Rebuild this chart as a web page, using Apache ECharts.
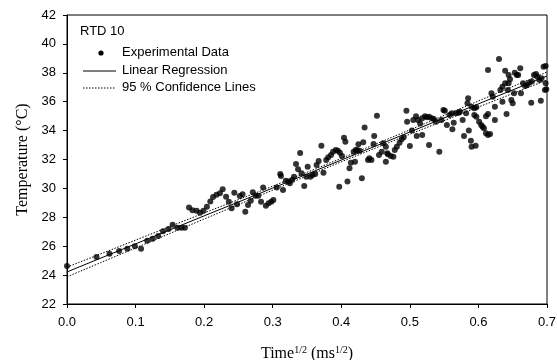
<!DOCTYPE html>
<html>
<head>
<meta charset="utf-8">
<script src="https://cdn.jsdelivr.net/npm/echarts@6/dist/echarts.min.js"></script>
<style>
  html, body { margin: 0; padding: 0; background: #fff; }
  #chart { width: 557px; height: 360px; }
</style>
</head>
<body>
<div id="chart"></div>
<script>
// experimental points, time^1/2 (ms^1/2) vs temperature (°C)
var timeData = [
  0.000, 0.043, 0.062, 0.076, 0.088, 0.099, 0.108, 0.117, 0.125, 0.133,
  0.140, 0.148, 0.154, 0.161, 0.167, 0.172, 0.178, 0.183, 0.189, 0.194,
  0.199, 0.204, 0.209, 0.213, 0.218, 0.223, 0.227, 0.232, 0.236, 0.240,
  0.244, 0.248, 0.252, 0.256, 0.260, 0.264, 0.268, 0.271, 0.275, 0.279,
  0.283, 0.286, 0.290, 0.294, 0.298, 0.301, 0.306, 0.311, 0.312, 0.315,
  0.319, 0.323, 0.325, 0.328, 0.331, 0.334, 0.337, 0.340, 0.342, 0.346,
  0.349, 0.351, 0.355, 0.358, 0.362, 0.364, 0.367, 0.371, 0.374, 0.378,
  0.381, 0.385, 0.388, 0.392, 0.395, 0.398, 0.401, 0.397, 0.404, 0.406,
  0.409, 0.412, 0.414, 0.420, 0.418, 0.421, 0.423, 0.427, 0.425, 0.430,
  0.432, 0.434, 0.439, 0.441, 0.444, 0.447, 0.448, 0.452, 0.455, 0.459,
  0.461, 0.465, 0.467, 0.465, 0.468, 0.472, 0.476, 0.478, 0.481, 0.485,
  0.488, 0.491, 0.495, 0.496, 0.500, 0.503, 0.505, 0.509, 0.512, 0.515,
  0.518, 0.510, 0.518, 0.522, 0.525, 0.528, 0.532, 0.535, 0.528, 0.538,
  0.543, 0.546, 0.549, 0.551, 0.554, 0.558, 0.561, 0.564, 0.567, 0.562,
  0.571, 0.573, 0.577, 0.579, 0.582, 0.584, 0.585, 0.586, 0.589, 0.590,
  0.596, 0.590, 0.594, 0.597, 0.594, 0.597, 0.601, 0.604, 0.606, 0.608,
  0.611, 0.614, 0.617, 0.611, 0.614, 0.614, 0.619, 0.621, 0.624, 0.624,
  0.630, 0.632, 0.635, 0.639, 0.639, 0.635, 0.641, 0.643, 0.644, 0.646,
  0.644, 0.648, 0.650, 0.652, 0.653, 0.656, 0.658, 0.661, 0.662, 0.665,
  0.668, 0.671, 0.674, 0.678, 0.677, 0.681, 0.684, 0.686, 0.689, 0.691,
  0.692, 0.695, 0.698, 0.697, 0.698, 0.699
];
var tempData = [
  24.63, 25.25, 25.48, 25.67, 25.83, 26.00, 25.83, 26.38, 26.52, 26.70,
  27.03, 27.19, 27.49, 27.28, 27.28, 27.28, 28.67, 28.48, 28.46, 28.32,
  28.46, 28.73, 29.10, 29.40, 29.56, 29.66, 29.94, 29.43, 29.08, 28.62,
  29.70, 28.90, 29.47, 29.60, 28.39, 28.85, 29.15, 29.73, 29.50, 29.50,
  29.08, 30.07, 28.80, 28.97, 29.08, 29.20, 30.07, 31.00, 30.86, 29.89,
  30.53, 30.47, 30.35, 30.58, 30.81, 31.69, 31.32, 32.45, 31.04, 30.17,
  30.81, 31.50, 30.81, 30.93, 31.00, 31.62, 31.90, 32.96, 31.09, 31.97,
  32.15, 32.31, 32.54, 32.66, 32.61, 32.47, 32.24, 30.12, 33.51, 33.23,
  30.47, 31.39, 31.78, 31.85, 32.54, 32.66, 32.66, 32.61, 33.05, 30.70,
  33.19, 34.22, 31.97, 32.08, 31.97, 33.07, 33.63, 35.03, 32.31, 32.54,
  33.12, 31.85, 32.43, 32.89, 32.36, 32.24, 32.19, 32.66, 32.89, 33.16,
  33.40, 33.54, 35.38, 34.62, 32.93, 34.00, 34.73, 35.00, 34.73, 34.50,
  34.85, 33.63, 33.70, 35.00, 34.92, 34.96, 34.85, 34.80, 33.00, 34.62,
  32.54, 34.73, 35.43, 35.38, 34.39, 35.08, 35.20, 34.55, 35.20, 34.09,
  35.24, 35.31, 34.73, 33.63, 35.20, 35.89, 36.24, 34.00, 33.30, 32.89,
  32.96, 35.65, 35.54, 35.61, 35.08, 34.96, 34.62, 34.39, 34.27, 34.16,
  33.81, 33.70, 33.76, 35.00, 35.15, 38.19, 36.58, 36.35, 35.65, 34.73,
  38.96, 36.81, 37.04, 37.27, 38.15, 36.00, 35.15, 36.81, 37.27, 37.55,
  37.85, 36.12, 35.89, 36.58, 38.00, 37.85, 37.85, 38.31, 36.58, 37.27,
  37.09, 37.16, 37.32, 37.39, 35.93, 37.85, 37.92, 37.73, 37.50, 36.07,
  37.62, 38.42, 38.47, 36.81, 37.27, 36.86
];

// fitted line and 95 % band, read at these x positions
var fitX = [0, 0.1, 0.2, 0.3, 0.4, 0.5, 0.6, 0.7];
var fitLine = [24.22, 26.16, 28.10, 30.02, 31.96, 33.90, 35.85, 37.78];
var upperBand = [24.55, 26.42, 28.30, 30.15, 32.08, 34.05, 36.05, 38.05];
var lowerBand = [23.88, 25.88, 27.88, 29.88, 31.84, 33.75, 35.63, 37.50];

function pairs(xs, ys) {
  return xs.map(function (x, i) { return [x, ys[i]] })
}

var chart = echarts.init(document.getElementById('chart'))

var sansFont = 'Liberation Sans, Arial, sans-serif'
var serifFont = 'Liberation Serif, Times New Roman, serif'

chart.setOption({
  animation: false,
  backgroundColor: '#fff',
  grid: {
    left: 67,
    right: 10,
    top: 15,
    bottom: 56,
    outerBoundsMode: 'none',
    containLabel: false,
    show: true,
    borderColor: '#000',
    borderWidth: 1
  },
  xAxis: {
    type: 'value',
    min: 0,
    max: 0.7,
    interval: 0.1,
    name: '{a|Time}{s|1/2}{a| (ms}{s|1/2}{a|)}',
    nameLocation: 'middle',
    nameGap: 41,
    nameTextStyle: {
      rich: {
        a: { fontFamily: serifFont, fontSize: 16, color: '#000', lineHeight: 18 },
        s: { fontFamily: serifFont, fontSize: 10, color: '#000', lineHeight: 10, verticalAlign: 'top' }
      }
    },
    axisLine: { show: true, lineStyle: { color: '#000', width: 1 } },
    axisTick: { show: true, inside: false, length: 4, lineStyle: { color: '#000' } },
    axisLabel: {
      color: '#000',
      fontFamily: sansFont,
      fontSize: 13,
      margin: 12,
      formatter: function (v) { return v.toFixed(1) }
    },
    splitLine: { show: false }
  },
  yAxis: {
    type: 'value',
    min: 22,
    max: 42,
    interval: 2,
    name: 'Temperature (\u00B0C)',
    nameLocation: 'middle',
    nameGap: 36,
    nameRotate: 90,
    nameTextStyle: { fontFamily: serifFont, fontSize: 16, color: '#000' },
    axisLine: { show: true, lineStyle: { color: '#000', width: 1 } },
    axisTick: { show: true, inside: false, length: 4, lineStyle: { color: '#000' } },
    axisLabel: {
      color: '#000',
      fontFamily: sansFont,
      fontSize: 13,
      margin: 11
    },
    splitLine: { show: false }
  },
  graphic: [
    { type: 'text', left: 80, top: 25, style: { text: 'RTD 10', font: '13px ' + sansFont, fill: '#000' } },
    { type: 'circle', shape: { cx: 101, cy: 53, r: 2.6 }, style: { fill: '#000' } },
    { type: 'text', left: 122, top: 46, style: { text: 'Experimental Data', font: '13px ' + sansFont, fill: '#000' } },
    { type: 'line', shape: { x1: 83, y1: 71, x2: 116, y2: 71 }, style: { stroke: '#000', lineWidth: 1 } },
    { type: 'text', left: 122, top: 64, style: { text: 'Linear Regression', font: '13px ' + sansFont, fill: '#000' } },
    { type: 'line', shape: { x1: 83, y1: 88, x2: 116, y2: 88 }, style: { stroke: '#000', lineWidth: 1, lineDash: [1.5, 1.5] } },
    { type: 'text', left: 122, top: 81, style: { text: '95 % Confidence Lines', font: '13px ' + sansFont, fill: '#000' } }
  ],
  series: [
    {
      name: 'Experimental Data',
      type: 'scatter',
      symbol: 'circle',
      symbolSize: 6,
      itemStyle: { color: '#000' },
      data: pairs(timeData, tempData),
      z: 3
    },
    {
      name: 'Linear Regression',
      type: 'line',
      symbol: 'none',
      lineStyle: { color: '#000', width: 1 },
      data: pairs(fitX, fitLine),
      z: 4
    },
    {
      name: '95 % Confidence Upper',
      type: 'line',
      symbol: 'none',
      lineStyle: { color: '#000', width: 1, type: [1.5, 1.5] },
      data: pairs(fitX, upperBand),
      z: 4
    },
    {
      name: '95 % Confidence Lower',
      type: 'line',
      symbol: 'none',
      lineStyle: { color: '#000', width: 1, type: [1.5, 1.5] },
      data: pairs(fitX, lowerBand),
      z: 4
    }
  ]
})
</script>
</body>
</html>
